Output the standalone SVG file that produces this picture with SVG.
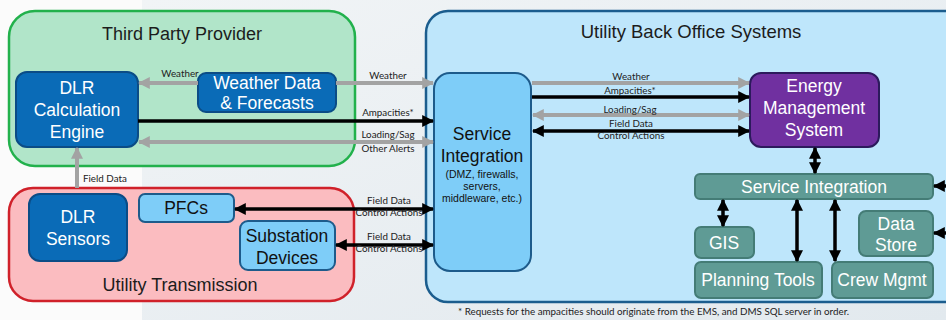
<svg xmlns="http://www.w3.org/2000/svg" width="946" height="320" viewBox="0 0 946 320">
  <defs>
    <linearGradient id="bg" x1="0" y1="0" x2="1" y2="1">
      <stop offset="0" stop-color="#f1f4f6"/>
      <stop offset="1" stop-color="#e2e9ee"/>
    </linearGradient>
    <marker id="ag" viewBox="0 0 10 10" refX="9" refY="5" markerWidth="12" markerHeight="12" markerUnits="userSpaceOnUse" orient="auto-start-reverse">
      <path d="M0,0 L10,5 L0,10 z" fill="#a3a3a3"/>
    </marker>
    <marker id="ab" viewBox="0 0 10 10" refX="9" refY="5" markerWidth="12" markerHeight="12" markerUnits="userSpaceOnUse" orient="auto-start-reverse">
      <path d="M0,0 L10,5 L0,10 z" fill="#000"/>
    </marker>
    <style>
      .title { font-family: "Liberation Sans", Arial, sans-serif; font-size: 18px; fill: #1c1c1c; text-anchor: middle; }
      .nt { font-family: "Liberation Sans", Arial, sans-serif; font-size: 17.5px; fill: #ffffff; text-anchor: middle; }
      .ntd { font-family: "Liberation Sans", Arial, sans-serif; font-size: 17.5px; fill: #111; text-anchor: middle; }
      .sm { font-family: "Liberation Sans", Arial, sans-serif; font-size: 10.5px; fill: #111; text-anchor: middle; }
      .lbl { font-family: "Lato", "Liberation Sans", sans-serif; font-size: 9.8px; fill: #222; text-anchor: middle; }
      .lbl.start { text-anchor: start; }
      .foot { font-family: "Lato", "Liberation Sans", sans-serif; font-size: 9.8px; fill: #222; }
      .dark { fill: #0a6bb7; stroke: #0b4c86; stroke-width: 2; }
      .light { fill: #7ecdf8; stroke: #1d5b8b; stroke-width: 2; }
      .teal { fill: #5f9b95; stroke: #447c76; stroke-width: 2; }
      .g { stroke: #a3a3a3; stroke-width: 4; fill: none; }
      .b { stroke: #000; stroke-width: 3.5; fill: none; }
    </style>
  </defs>

  <!-- page background -->
  <rect x="0" y="0" width="946" height="320" fill="#fbfbfb"/>
  <rect x="142" y="0" width="804" height="320" fill="url(#bg)"/>

  <!-- container areas -->
  <g id="third-party-provider">
    <rect x="9" y="11" width="346" height="155" rx="26" fill="#b1e5c9" stroke="#22b14c" stroke-width="2.5"/>
    <text class="title" x="182" y="40">Third Party Provider</text>
  </g>
  <g id="utility-transmission">
    <rect x="9" y="188" width="345" height="113" rx="24" fill="#fbbcc0" stroke="#d0212a" stroke-width="2.5"/>
    <text class="title" x="180" y="291">Utility Transmission</text>
  </g>
  <g id="utility-back-office">
    <rect x="426" y="11" width="540" height="291" rx="22" fill="#bee6fb" stroke="#1b5d8e" stroke-width="2.5"/>
    <text class="title" x="691" y="38" style="font-size:18.5px">Utility Back Office Systems</text>
  </g>

  <!-- nodes -->
  <g id="dlr-calculation-engine">
    <rect class="dark" x="16" y="72" width="122" height="75" rx="11"/>
    <text class="nt" x="77" y="94">DLR</text>
    <text class="nt" x="77" y="116">Calculation</text>
    <text class="nt" x="77" y="138">Engine</text>
  </g>
  <g id="weather-data-forecasts">
    <rect class="dark" x="198" y="73" width="138" height="39" rx="8"/>
    <text class="nt" x="267" y="89">Weather Data</text>
    <text class="nt" x="267" y="109">&amp; Forecasts</text>
  </g>
  <g id="dlr-sensors">
    <rect class="dark" x="29" y="194" width="98" height="67" rx="11"/>
    <text class="nt" x="78" y="223">DLR</text>
    <text class="nt" x="78" y="245">Sensors</text>
  </g>
  <g id="pfcs">
    <rect class="light" x="139" y="194" width="95" height="28" rx="6"/>
    <text class="ntd" x="186" y="214">PFCs</text>
  </g>
  <g id="substation-devices">
    <rect class="light" x="240" y="221" width="95" height="49" rx="8"/>
    <text class="ntd" x="287" y="242">Substation</text>
    <text class="ntd" x="287" y="264">Devices</text>
  </g>
  <g id="service-integration">
    <rect class="light" x="434" y="73" width="97" height="198" rx="16"/>
    <text class="ntd" x="482" y="140">Service</text>
    <text class="ntd" x="482" y="162">Integration</text>
    <text class="sm" x="482" y="178">(DMZ, firewalls,</text>
    <text class="sm" x="482" y="190">servers,</text>
    <text class="sm" x="482" y="202">middleware,  etc.)</text>
  </g>
  <g id="energy-management-system">
    <rect x="750" y="73" width="129" height="74" rx="11" fill="#7030a0" stroke="#2c1a5c" stroke-width="2"/>
    <text class="nt" x="814" y="92">Energy</text>
    <text class="nt" x="814" y="114">Management</text>
    <text class="nt" x="814" y="136">System</text>
  </g>
  <g id="service-integration-bus">
    <rect class="teal" x="695" y="174" width="238" height="25" rx="5"/>
    <text class="nt" x="814" y="193">Service Integration</text>
  </g>
  <g id="gis">
    <rect class="teal" x="695" y="227" width="59" height="31" rx="6"/>
    <text class="nt" x="724" y="249">GIS</text>
  </g>
  <g id="data-store">
    <rect class="teal" x="859" y="211" width="74" height="45" rx="7"/>
    <text class="nt" x="896" y="230">Data</text>
    <text class="nt" x="896" y="251">Store</text>
  </g>
  <g id="planning-tools">
    <rect class="teal" x="695" y="262" width="127" height="36" rx="6"/>
    <text class="nt" x="758" y="286">Planning Tools</text>
  </g>
  <g id="crew-mgmt">
    <rect class="teal" x="832" y="262" width="101" height="36" rx="6"/>
    <text class="nt" x="882" y="286">Crew Mgmt</text>
  </g>

  <!-- connectors -->
  <g id="connectors">
    <line class="g" x1="198" y1="83" x2="139" y2="83" marker-end="url(#ag)"/>
    <line class="g" x1="336" y1="83" x2="433" y2="83" marker-end="url(#ag)"/>
    <line class="b" x1="138" y1="121" x2="433" y2="121" marker-end="url(#ab)"/>
    <line class="g" x1="139" y1="142" x2="433" y2="142" marker-start="url(#ag)" marker-end="url(#ag)"/>
    <line class="g" x1="77" y1="188" x2="77" y2="148" marker-end="url(#ag)"/>
    <line class="b" x1="235" y1="209" x2="433" y2="209" marker-start="url(#ab)" marker-end="url(#ab)"/>
    <line class="b" x1="336" y1="245" x2="433" y2="245" marker-start="url(#ab)" marker-end="url(#ab)"/>

    <line class="g" x1="532" y1="83" x2="749" y2="83" marker-end="url(#ag)"/>
    <line class="b" x1="532" y1="97" x2="749" y2="97" marker-end="url(#ab)"/>
    <line class="g" x1="533" y1="115" x2="749" y2="115" marker-start="url(#ag)" marker-end="url(#ag)"/>
    <line class="b" x1="533" y1="131" x2="749" y2="131" marker-start="url(#ab)" marker-end="url(#ab)"/>

    <line class="b" x1="815" y1="148" x2="815" y2="173" marker-start="url(#ab)" marker-end="url(#ab)"/>
    <line class="b" x1="723" y1="200" x2="723" y2="226" marker-start="url(#ab)" marker-end="url(#ab)"/>
    <line class="b" x1="797" y1="200" x2="797" y2="261" marker-start="url(#ab)" marker-end="url(#ab)"/>
    <line class="b" x1="835" y1="200" x2="835" y2="261" marker-start="url(#ab)" marker-end="url(#ab)"/>
    <line class="b" x1="950" y1="186" x2="934" y2="186" marker-end="url(#ab)"/>
    <line class="b" x1="950" y1="233" x2="934" y2="233" marker-end="url(#ab)"/>

    <!-- connector labels -->
    <text class="lbl" x="180" y="77">Weather</text>
    <text class="lbl" x="388" y="79">Weather</text>
    <text class="lbl" x="388" y="116">Ampacities*</text>
    <text class="lbl" x="388" y="138">Loading/Sag</text>
    <text class="lbl" x="388" y="152">Other Alerts</text>
    <text class="lbl start" x="83" y="182">Field Data</text>
    <text class="lbl" x="389" y="204">Field Data</text>
    <text class="lbl" x="389" y="216">Control Actions</text>
    <text class="lbl" x="389" y="240">Field Data</text>
    <text class="lbl" x="389" y="252">Control Actions</text>

    <text class="lbl" x="631" y="80">Weather</text>
    <text class="lbl" x="630" y="94">Ampacities*</text>
    <text class="lbl" x="630" y="113">Loading/Sag</text>
    <text class="lbl" x="631" y="127">Field Data</text>
    <text class="lbl" x="631" y="139">Control Actions</text>
  </g>

  <!-- footnote -->
  <text class="foot" x="458" y="315">* Requests for the ampacities should originate from the EMS, and DMS SQL server in order.</text>
</svg>
